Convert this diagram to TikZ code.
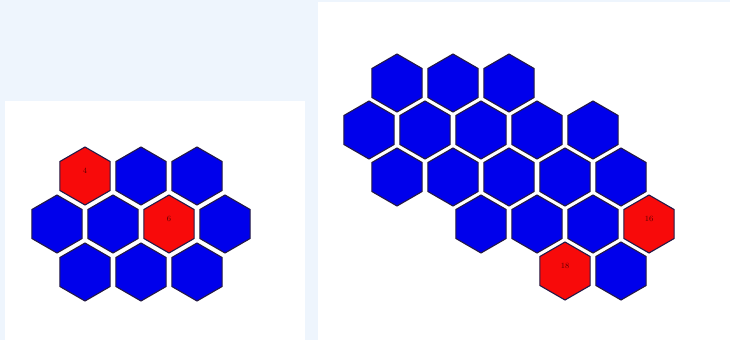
\documentclass[tikz,border=0pt]{standalone}
\usetikzlibrary{shapes.geometric}
\definecolor{bgblue}{RGB}{238,245,253}
\definecolor{hexblue}{RGB}{0,0,235}
\definecolor{hexred}{RGB}{248,10,10}
\definecolor{hexline}{RGB}{35,25,70}
\definecolor{lbl}{RGB}{90,0,0}
\tikzset{
  hexcell/.style={regular polygon, regular polygon sides=6, shape border rotate=30,
    minimum size=58pt, inner sep=0pt, outer sep=0pt, draw=hexline, line width=1.1pt},
  bcell/.style={hexcell, fill=hexblue},
  rcell/.style={hexcell, fill=hexred},
  num/.style={label={[font=\fontsize{8}{8}\selectfont, text=lbl, yshift=5pt]center:#1}},
  panel/.style={fill=white, draw=none}
}
\begin{document}
\begin{tikzpicture}[x=1pt,y=-1pt]
\fill[bgblue] (0,0) rectangle (730,340);
\useasboundingbox (0,0) rectangle (730,340);
\node[panel, minimum width=300pt, minimum height=239pt, inner sep=0pt, anchor=north west] (lp) at (4.5,101) {};
\node[panel, minimum width=412.5pt, minimum height=338pt, inner sep=0pt, anchor=north west] (rp) at (317.5,2) {};
% left grid
\node[rcell, num=4] (l1) at (85,176) {};
\node[bcell] (l2) at (141,176) {};
\node[bcell] (l3) at (197,176) {};
\node[bcell] (l4) at (57,224) {};
\node[bcell] (l5) at (113,224) {};
\node[rcell, num=6] (l6) at (169,224) {};
\node[bcell] (l7) at (225,224) {};
\node[bcell] (l8) at (85,272) {};
\node[bcell] (l9) at (141,272) {};
\node[bcell] (l10) at (197,272) {};
% right grid
\node[bcell] (r1) at (397,83) {};
\node[bcell] (r2) at (453,83) {};
\node[bcell] (r3) at (509,83) {};
\node[bcell] (r4) at (369,130) {};
\node[bcell] (r5) at (425,130) {};
\node[bcell] (r6) at (481,130) {};
\node[bcell] (r7) at (537,130) {};
\node[bcell] (r8) at (593,130) {};
\node[bcell] (r9) at (397,177) {};
\node[bcell] (r10) at (453,177) {};
\node[bcell] (r11) at (509,177) {};
\node[bcell] (r12) at (565,177) {};
\node[bcell] (r13) at (621,177) {};
\node[bcell] (r14) at (481,224) {};
\node[bcell] (r15) at (537,224) {};
\node[bcell] (r16) at (593,224) {};
\node[rcell, num=16] (r17) at (649,224) {};
\node[rcell, num=18] (r18) at (565,271) {};
\node[bcell] (r19) at (621,271) {};
\end{tikzpicture}
\end{document}
